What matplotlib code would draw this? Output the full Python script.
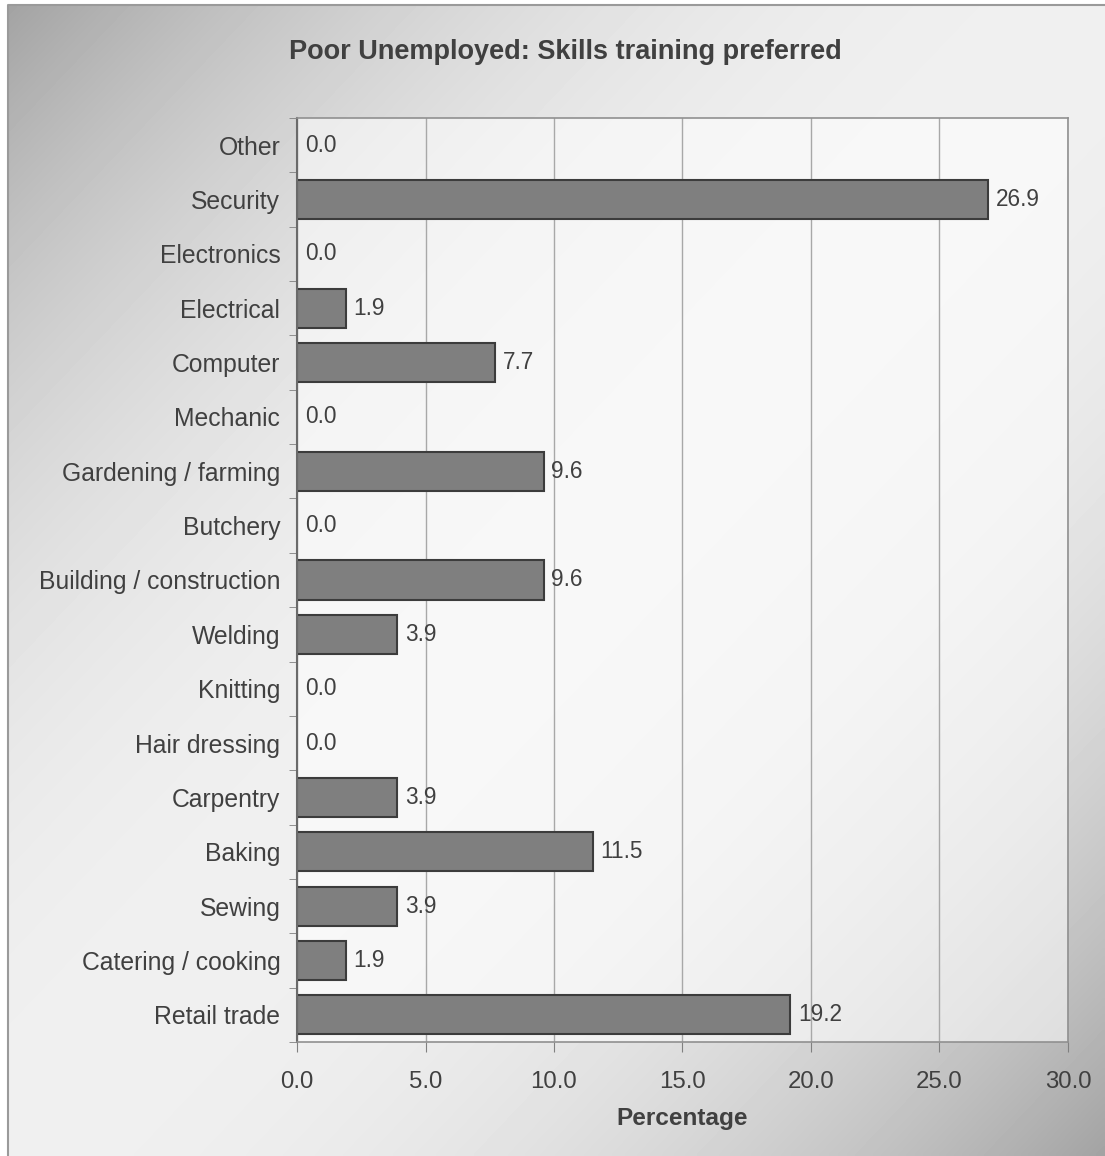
import numpy as np
import matplotlib.pyplot as plt
from matplotlib.ticker import FixedLocator

plt.rcParams['font.family'] = ['Liberation Sans', 'DejaVu Sans']

# skills listed top to bottom as shown on the chart
skills = ["Other", "Security", "Electronics", "Electrical", "Computer", "Mechanic",
          "Gardening / farming", "Butchery", "Building / construction", "Welding",
          "Knitting", "Hair dressing", "Carpentry", "Baking", "Sewing",
          "Catering / cooking", "Retail trade"]
pct = [0.0, 26.9, 0.0, 1.9, 7.7, 0.0, 9.6, 0.0, 9.6, 3.9,
       0.0, 0.0, 3.9, 11.5, 3.9, 1.9, 19.2]
xticks = [0, 5, 10, 15, 20, 25, 30]

txt = '#404040'
W, H = 1105, 1156
fig = plt.figure(figsize=(W / 100, H / 100), dpi=100)

# shaded backdrop: darker toward top-left and bottom-right corners
bg = fig.add_axes([0, 0, 1, 1], zorder=-5)
bg.set_xlim(0, W)
bg.set_ylim(H, 0)
bg.axis('off')
xx, yy = np.meshgrid(np.linspace(0, 1, 300), np.linspace(0, 1, 300))
d = (xx - 0.5) + (yy - 0.5)
shade = 0.94 - 0.30 * np.clip(np.abs(d), 0, 1) ** 2.2
bg.imshow(shade, cmap='gray', vmin=0, vmax=1, extent=[8, W, H, 5],
          aspect='auto', interpolation='bilinear')
bg.plot([8, 8, W], [H, 5, 5], color='#9a9a9a', lw=1.5)

ax = fig.add_axes([297 / W, 1 - 1042 / H, (1068 - 297) / W, (1042 - 118) / H])
ax.set_facecolor((1, 1, 1, 0.55))

n = len(skills)
ypos = np.arange(n)[::-1]
# no outline on empty bars so nothing shows at zero
lws = [1.5 if v > 0 else 0 for v in pct]
ax.barh(ypos, pct, height=0.72, color='#7f7f7f', edgecolor='#3c3c3c',
        linewidth=lws, zorder=3)
for y, v in zip(ypos, pct):
    ax.text(v + 0.3, y, f"{v:.1f}", va='center', ha='left',
            fontsize=16.3, color=txt, zorder=4)

ax.set_xlim(0, 30)
ax.set_ylim(-0.5, n - 0.5)
ax.set_xticks(xticks)
ax.set_xticklabels([f"{t:.1f}" for t in xticks], fontsize=17.3, color=txt)
ax.set_yticks(ypos)
ax.set_yticklabels(skills, fontsize=17.8, color=txt)
ax.yaxis.set_minor_locator(FixedLocator(np.arange(-0.5, n, 1.0)))
ax.tick_params(axis='y', which='major', length=0, pad=12)
ax.tick_params(axis='y', which='minor', length=6, color='#808080', direction='out')
ax.tick_params(axis='x', length=7, color='#808080', pad=14)

ax.grid(axis='x', color='#a8a8a8', lw=1.0, zorder=1)
for s in ax.spines.values():
    s.set_color('#909090')
    s.set_linewidth(1.2)
    s.set_zorder(5)
ax.spines['left'].set_color('#6a6a6a')
ax.spines['left'].set_linewidth(1.5)

ax.set_xlabel("Percentage", fontsize=17.6, fontweight='bold', color=txt, labelpad=10)
fig.text(565 / W, 1 - 52 / H, "Poor Unemployed: Skills training preferred",
         ha='center', va='center', fontsize=19.5, fontweight='bold', color=txt)

fig.savefig('out.png', dpi=100)
